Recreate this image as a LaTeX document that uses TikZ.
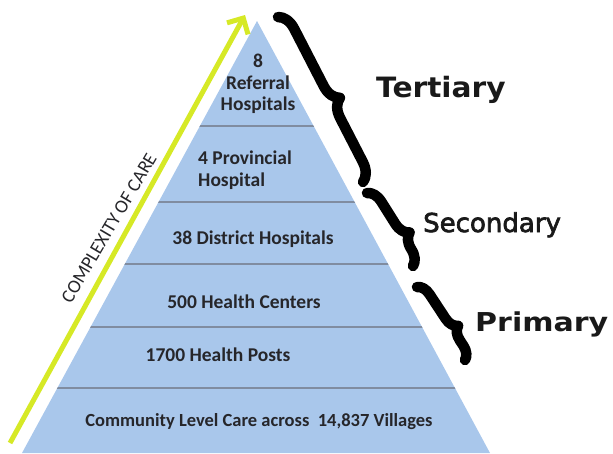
\documentclass[tikz,border=0pt]{standalone}
\usepackage{fontspec}
\setmainfont{Carlito}
\newfontfamily\tierfont{DejaVu Sans}
\newfontfamily\tiermid{DejaVu Sans}[FakeBold=2.5]
\usetikzlibrary{arrows.meta,decorations.pathreplacing}

\definecolor{pyrblue}{RGB}{169,199,235}
\definecolor{divgray}{RGB}{128,140,160}
\definecolor{careyellow}{RGB}{214,233,38}
\definecolor{labelink}{RGB}{38,38,42}

\begin{document}
\begin{tikzpicture}[x=1pt, y=-1pt,
    level/.style={font=\bfseries\fontsize{19.5}{21.5}\selectfont, text=labelink, inner sep=0pt},
    tier/.style={text=black!90, inner sep=0pt, anchor=base west},
    bracket/.style={line width=10.5pt, line cap=round, line join=round, decorate}]
    \useasboundingbox (0,0) rectangle (613,453);

    % the pyramid and its level dividers
    \fill[pyrblue] (257,21) -- (490,453) -- (22,453) -- cycle;
    \begin{scope}
        \clip (257,21) -- (490,453) -- (22,453) -- cycle;
        \foreach \y in {126,202,264,327,388}
            \draw[divgray, line width=2pt] (0,\y) -- (613,\y);
    \end{scope}

    \node[level, align=center] (referral) at (258,84) {8\\Referral\\Hospitals};
    \node[level, align=left, anchor=west] (provincial) at (198,170) {4 Provincial\\Hospital};
    \node[level] (district) at (253,239) {38 District Hospitals};
    \node[level] (centers) at (244,302) {500 Health Centers};
    \node[level] (posts) at (218,355) {1700 Health Posts};
    \node[level, font=\bfseries\fontsize{18.5}{20}\selectfont] (villages) at (259,422) {Community Level Care across\ \ 14,837 Villages};

    % complexity arrow along the left side
    \coordinate (careFoot) at (10,443);
    \coordinate (careTip) at (245,15);
    \draw[careyellow, line width=5pt, -{Straight Barb[length=12pt, width=24pt]}] (careFoot) -- (careTip);
    \node[font=\fontsize{19}{19}\selectfont, text=labelink, rotate=59.5, inner sep=0pt] (complexity) at (109,228) {COMPLEXITY OF CARE};

    % braces for the three tiers of care
    \coordinate (tertTop) at (278,17);
    \coordinate (tertEnd) at (363,182);
    \coordinate (secTop) at (367,193);
    \coordinate (secEnd) at (413,266);
    \coordinate (primTop) at (417,287);
    \coordinate (primEnd) at (465,360);
    \draw[bracket, decoration={brace, amplitude=18pt, aspect=0.54}] (tertTop) -- (tertEnd);
    \draw[bracket, decoration={brace, amplitude=15pt, aspect=0.65}] (secTop) -- (secEnd);
    \draw[bracket, decoration={brace, amplitude=13pt, aspect=0.63}] (primTop) -- (primEnd);

    \node[tier, font=\tierfont\bfseries\fontsize{28}{30}\selectfont] (tertiary) at (376,97) {\scalebox{1.06}[1]{Tertiary}};
    \node[tier, font=\tiermid\fontsize{26}{28}\selectfont] (secondary) at (423,232) {Secondary};
    \node[tier, font=\tierfont\bfseries\fontsize{26}{28}\selectfont] (primary) at (475,331) {\scalebox{1.155}[1]{Primary}};
\end{tikzpicture}
\end{document}
